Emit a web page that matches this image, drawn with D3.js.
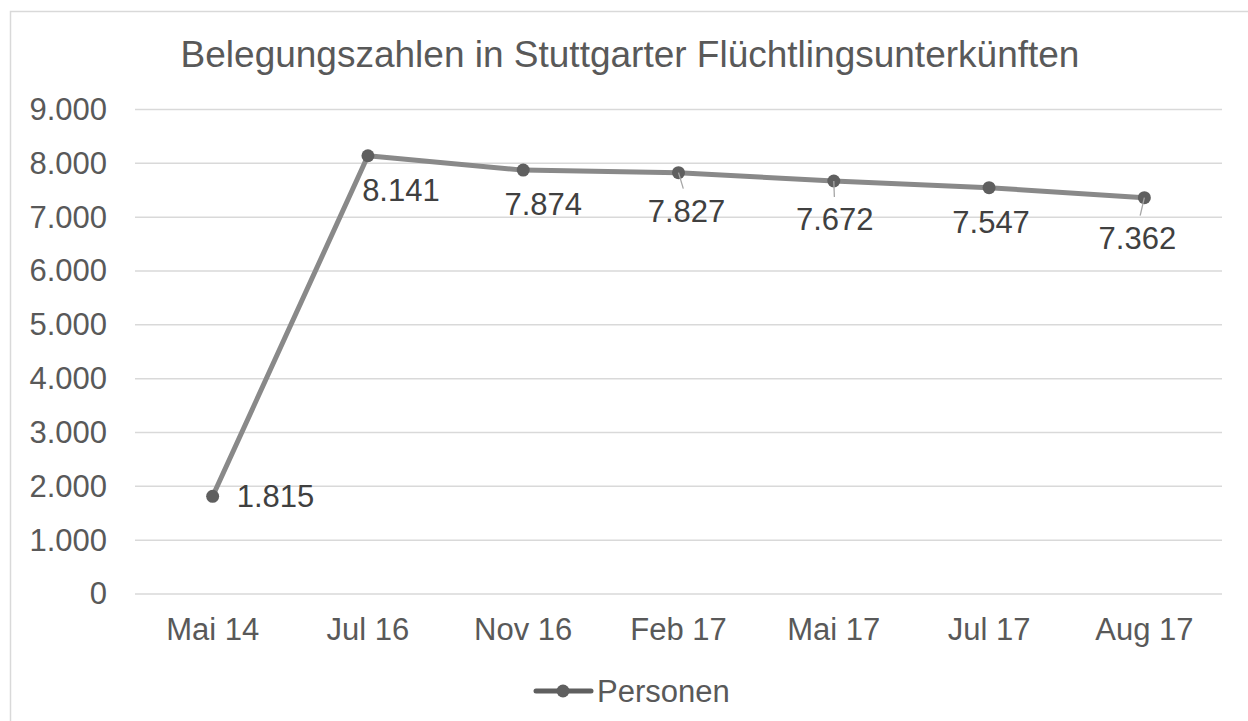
<!DOCTYPE html>
<html>
<head>
<meta charset="utf-8">
<script src="https://cdn.jsdelivr.net/npm/d3@7"></script>
<style>
  body { margin: 0; background: #fff; }
  text { font-family: "Liberation Sans", Arial, sans-serif; }
</style>
</head>
<body>
<script>
/* Daten */
var months = ['Mai 14', 'Jul 16', 'Nov 16', 'Feb 17', 'Mai 17', 'Jul 17', 'Aug 17'];
var persons = [1815, 8141, 7874, 7827, 7672, 7547, 7362];
var yTicks = [0, 1000, 2000, 3000, 4000, 5000, 6000, 7000, 8000, 9000];
var seriesName = 'Personen';
var chartTitle = 'Belegungszahlen in Stuttgarter Flüchtlingsunterkünften';

/* Beschriftungs-Verschiebung der Datenlabels (dx, dy) und Führungslinien */
var labelDx = [24, 33, 20, 8, 1, 2, -7];
var labelDy = [11, 45, 45, 49, 49, 45, 51];
var leader = [false, false, false, true, true, false, true];

var width = 1248, height = 721;
var svg = d3.select('body').append('svg')
  .attr('width', width)
  .attr('height', height);

/* Rahmen */
svg.append('rect')
  .attr('x', 10.5).attr('y', 11.5)
  .attr('width', 1260).attr('height', 740)
  .attr('fill', '#fff')
  .attr('stroke', '#d9d9d9')
  .attr('stroke-width', 1.5);

var x = d3.scaleBand().domain(months).range([135, 1222]);
var y = d3.scaleLinear().domain([0, 9000]).range([594, 109.5]);

/* Titel */
svg.append('text')
  .attr('x', 630).attr('y', 67)
  .attr('text-anchor', 'middle')
  .attr('font-size', 37)
  .attr('fill', '#595959')
  .text(chartTitle);

/* Gitterlinien */
svg.append('g')
  .selectAll('line')
  .data(yTicks)
  .join('line')
  .attr('x1', 135).attr('x2', 1222)
  .attr('y1', function (d) { return y(d); })
  .attr('y2', function (d) { return y(d); })
  .attr('stroke', '#d9d9d9')
  .attr('stroke-width', 1.5);

/* y-Achse */
var fmt = function (d) { return d3.format(',')(d).replace(/,/g, '.'); };
var yAxis = svg.append('g')
  .attr('transform', 'translate(135,0)')
  .call(d3.axisLeft(y).tickValues(yTicks).tickSize(0).tickPadding(28).tickFormat(fmt));
yAxis.select('.domain').remove();
yAxis.selectAll('text')
  .attr('font-size', 31)
  .attr('fill', '#595959')
  .attr('font-family', '"Liberation Sans", Arial, sans-serif');

/* x-Achse */
var xAxis = svg.append('g')
  .attr('transform', 'translate(0,594)')
  .call(d3.axisBottom(x).tickSize(0).tickPadding(24));
xAxis.select('.domain').remove();
xAxis.selectAll('text')
  .attr('font-size', 31)
  .attr('fill', '#595959')
  .attr('font-family', '"Liberation Sans", Arial, sans-serif');

var cx = function (d, i) { return x(months[i]) + x.bandwidth() / 2; };
var cy = function (d) { return y(d); };

/* Linie */
var line = d3.line()
  .x(function (d, i) { return cx(d, i); })
  .y(function (d) { return y(d); });

svg.append('path')
  .datum(persons)
  .attr('d', line)
  .attr('fill', 'none')
  .attr('stroke', '#898989')
  .attr('stroke-width', 5)
  .attr('stroke-linejoin', 'round');

/* Punkte */
svg.append('g')
  .selectAll('circle')
  .data(persons)
  .join('circle')
  .attr('cx', cx)
  .attr('cy', cy)
  .attr('r', 6.5)
  .attr('fill', '#5f5f5f');

/* Führungslinien */
svg.append('g')
  .selectAll('line')
  .data(persons.filter(function (d, i) { return leader[i]; }))
  .join('line')
  .attr('x1', function (d) { var i = persons.indexOf(d); return cx(d, i); })
  .attr('y1', function (d) { return y(d); })
  .attr('x2', function (d) { var i = persons.indexOf(d); return cx(d, i) + labelDx[i] * 0.6; })
  .attr('y2', function (d) { var i = persons.indexOf(d); return y(d) + labelDy[i] - 33; })
  .attr('stroke', '#a6a6a6')
  .attr('stroke-width', 1.3);

/* Datenlabels */
svg.append('g')
  .selectAll('text')
  .data(persons)
  .join('text')
  .attr('x', function (d, i) { return cx(d, i) + labelDx[i]; })
  .attr('y', function (d, i) { return y(d) + labelDy[i]; })
  .attr('text-anchor', function (d, i) { return i === 0 ? 'start' : 'middle'; })
  .attr('font-size', 31)
  .attr('fill', '#404040')
  .text(fmt);

/* Legende */
var legend = svg.append('g');
legend.append('line')
  .attr('x1', 536).attr('x2', 591)
  .attr('y1', 691).attr('y2', 691)
  .attr('stroke', '#5f5f5f')
  .attr('stroke-width', 5)
  .attr('stroke-linecap', 'round');
legend.append('circle')
  .attr('cx', 563).attr('cy', 691).attr('r', 6.5)
  .attr('fill', '#5f5f5f');
legend.append('text')
  .attr('x', 597).attr('y', 702)
  .attr('font-size', 31)
  .attr('fill', '#595959')
  .text(seriesName);
</script>
</body>
</html>
